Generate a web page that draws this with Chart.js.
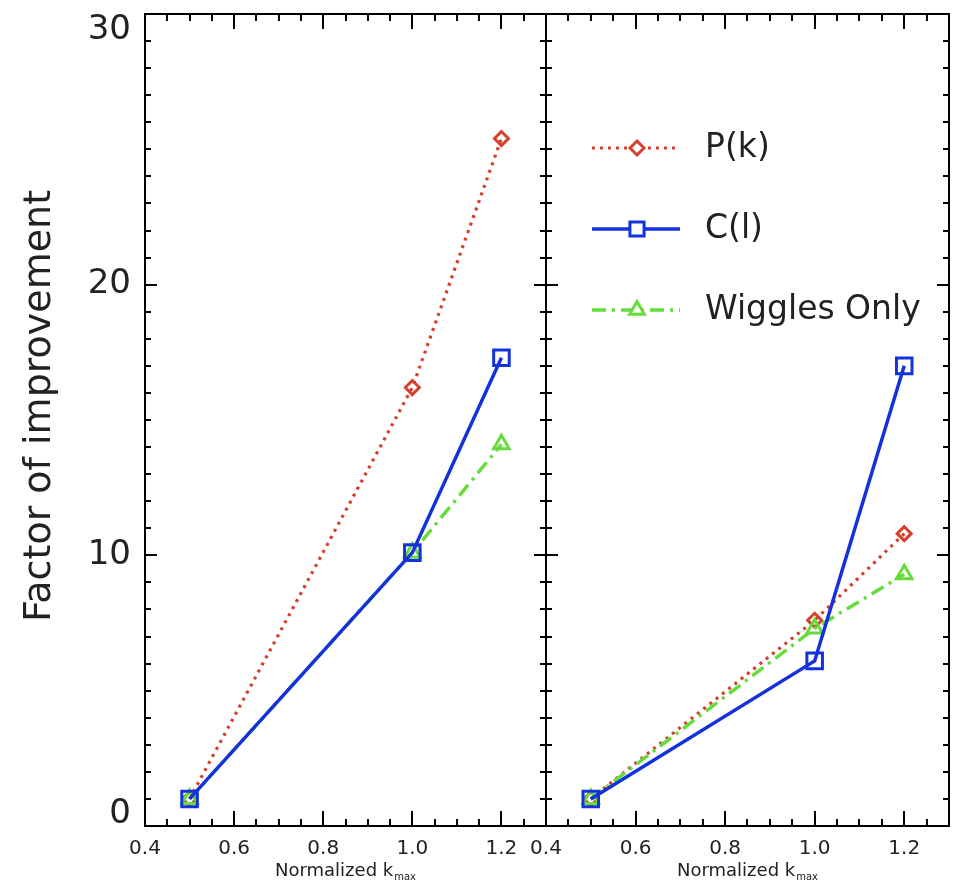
<!DOCTYPE html>
<html>
<head>
<meta charset="utf-8">
<script src="https://cdn.jsdelivr.net/npm/chart.js@4/dist/chart.umd.min.js"></script>
<style>
  html, body { margin: 0; padding: 0; background: #fff; }
  body { width: 966px; height: 885px; position: relative; overflow: hidden; }
  .panel { position: absolute; top: 0; height: 885px; }
  #wrapA { left: 0; width: 560px; }
  #wrapB { left: 500px; width: 466px; }
</style>
</head>
<body>
<div id="wrapA" class="panel"><canvas id="chartA"></canvas></div>
<div id="wrapB" class="panel"><canvas id="chartB"></canvas></div>
<script>
// ---- Data ----
const kmaxValues = [0.5, 1.0, 1.2];
const seriesNames = ['P(k)', 'C(l)', 'Wiggles Only'];
const leftPk = [1.0, 16.2, 25.4];
const leftCl = [1.0, 10.1, 17.3];
const leftWiggles = [1.0, 10.1, 14.1];
const rightPk = [1.0, 7.6, 10.8];
const rightCl = [1.0, 6.1, 17.0];
const rightWiggles = [1.0, 7.3, 9.3];
const yTickLabels = ['0', '10', '20', '30'];
const xTitle = 'Normalized k';
const xTitleSub = 'max';
const yTitle = 'Factor of improvement';

const FONT = "'DejaVu Sans', 'Liberation Sans', sans-serif";
const TEXT = '#222';
const RED = '#d4402c';
const BLUE = '#1432dc';
const GREEN = '#66dd3c';

function pts(vals) { return kmaxValues.map((x, i) => ({ x: x, y: vals[i] })); }

function makeDatasets(pk, cl, wg) {
  return [
    { label: seriesNames[0], data: pts(pk), borderColor: RED, borderWidth: 3.2, borderDash: [3, 5],
      pointStyle: 'rectRot', pointRadius: 7, pointBorderWidth: 3, pointBorderColor: RED,
      pointBackgroundColor: 'rgba(255,255,255,0)', order: 3 },
    { label: seriesNames[1], data: pts(cl), borderColor: BLUE, borderWidth: 3.5, borderDash: [],
      pointStyle: 'rect', pointRadius: 11, pointBorderWidth: 3, pointBorderColor: BLUE,
      pointBackgroundColor: 'rgba(255,255,255,0)', order: 1 },
    { label: seriesNames[2], data: pts(wg), borderColor: GREEN, borderWidth: 3.5, borderDash: [14, 6, 3, 6],
      pointStyle: 'triangle', pointRadius: 9, pointBorderWidth: 3, pointBorderColor: GREEN,
      pointBackgroundColor: 'rgba(255,255,255,0)', order: 2 }
  ];
}

function isMajorX(v) { return Math.abs(Math.round(v * 100) % 20) === 0; }

const framePlugin = {
  id: 'frame',
  afterDraw(chart, args, opts) {
    const { ctx, chartArea: a, scales: { x, y } } = chart;
    const off = opts.offsetX || 0;
    ctx.save();
    ctx.strokeStyle = '#000';
    ctx.lineWidth = 2;
    ctx.strokeRect(a.left, a.top, a.right - a.left, a.bottom - a.top);
    ctx.beginPath();
    x.ticks.forEach(t => {
      const px = Math.round(x.getPixelForValue(t.value));
      const len = isMajorX(t.value) ? 15 : 7;
      ctx.moveTo(px, a.bottom); ctx.lineTo(px, a.bottom - len);
      ctx.moveTo(px, a.top); ctx.lineTo(px, a.top + len);
    });
    y.ticks.forEach(t => {
      const py = Math.round(y.getPixelForValue(t.value));
      const len = (Math.round(t.value) % 10 === 0) ? 12 : 6;
      ctx.moveTo(a.left, py); ctx.lineTo(a.left + len, py);
      ctx.moveTo(a.right, py); ctx.lineTo(a.right - len, py);
    });
    ctx.stroke();

    // x title with subscript
    ctx.fillStyle = TEXT;
    ctx.font = '18px ' + FONT;
    const w1 = ctx.measureText(xTitle).width;
    ctx.font = '10px ' + FONT;
    const w2 = ctx.measureText(xTitleSub).width;
    const cx = (a.left + a.right) / 2;
    const sx = cx - (w1 + w2 + 1) / 2;
    ctx.textBaseline = 'alphabetic';
    ctx.textAlign = 'left';
    ctx.font = '18px ' + FONT;
    ctx.fillText(xTitle, sx, 876);
    ctx.font = '10px ' + FONT;
    ctx.fillText(xTitleSub, sx + w1 + 1, 880);

    if (opts.yLabels) {
      ctx.font = '34px ' + FONT;
      ctx.textAlign = 'right';
      ctx.textBaseline = 'middle';
      yTickLabels.forEach(lbl => {
        let py = y.getPixelForValue(parseFloat(lbl));
        py = Math.min(Math.max(py, a.top + 16), a.bottom - 12);
        ctx.fillText(lbl, 131, py);
      });
      ctx.save();
      ctx.translate(40, (a.top + a.bottom) / 2 - 14);
      ctx.rotate(-Math.PI / 2);
      ctx.textAlign = 'center';
      ctx.textBaseline = 'middle';
      ctx.font = '38px ' + FONT;
      ctx.fillText(yTitle, 0, 0);
      ctx.restore();
    }

    if (opts.legend) {
      const rows = [148, 229, 310];
      chart.data.datasets.forEach((ds, i) => {
        const ry = rows[i];
        ctx.save();
        ctx.strokeStyle = ds.borderColor;
        ctx.lineWidth = ds.borderWidth;
        ctx.setLineDash(ds.borderDash);
        ctx.beginPath();
        ctx.moveTo(592 - off, ry); ctx.lineTo(680 - off, ry);
        ctx.stroke();
        ctx.setLineDash([]);
        ctx.fillStyle = '#fff';
        ctx.strokeStyle = ds.pointBorderColor;
        ctx.lineWidth = ds.pointBorderWidth;
        const r = ds.pointStyle === 'rect' ? 10 : (ds.pointStyle === 'triangle' ? 8.5 : 7);
        Chart.helpers.drawPoint(ctx, { pointStyle: ds.pointStyle, rotation: 0, radius: r, borderWidth: ds.pointBorderWidth }, 637 - off, ry);
        ctx.restore();
        ctx.fillStyle = TEXT;
        ctx.font = '33px ' + FONT;
        ctx.textAlign = 'left';
        ctx.textBaseline = 'middle';
        ctx.fillText(ds.label, 705 - off, ry);
      });
    }
    ctx.restore();
  }
};

function makeChart(id, datasets, yAxisWidth, padRight, extras) {
  return new Chart(document.getElementById(id), {
    type: 'line',
    data: { datasets: datasets },
    options: {
      responsive: true,
      maintainAspectRatio: false,
      animation: false,
      events: [],
      layout: { padding: { left: 0, right: padRight, top: 12, bottom: 0 } },
      plugins: { legend: { display: false }, tooltip: { enabled: false }, frame: extras },
      scales: {
        x: {
          type: 'linear', min: 0.4, max: 1.3,
          grid: { display: false, drawTicks: false },
          border: { display: false },
          ticks: {
            stepSize: 0.05, autoSkip: false, maxRotation: 0, padding: 11,
            color: TEXT, font: { family: FONT, size: 20 },
            callback: v => isMajorX(v) && v < 1.25 ? (Math.round(v * 10) / 10).toFixed(1) : ''
          },
          afterFit: s => { s.height = 59; }
        },
        y: {
          type: 'linear', min: 0, max: 30,
          grid: { display: false, drawTicks: false },
          border: { display: false },
          ticks: { stepSize: 1, display: false },
          afterFit: s => { s.width = yAxisWidth; }
        }
      }
    },
    plugins: [framePlugin]
  });
}

makeChart('chartA', makeDatasets(leftPk, leftCl, leftWiggles), 145, 14, { yLabels: true, legend: false, offsetX: 0 });
makeChart('chartB', makeDatasets(rightPk, rightCl, rightWiggles), 46, 17, { yLabels: false, legend: true, offsetX: 500 });
</script>
</body>
</html>
